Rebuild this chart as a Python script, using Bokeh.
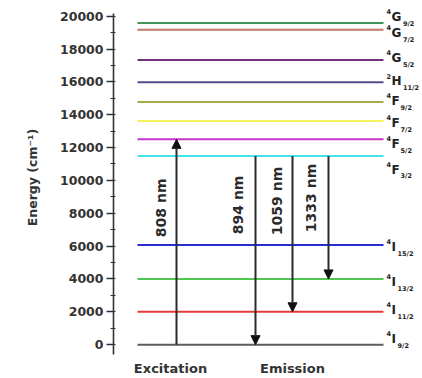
import math
from bokeh.plotting import figure
from bokeh.models import Range1d, SingleIntervalTicker, FixedTicker, Label, Arrow, NormalHead, ColumnDataSource
from bokeh.embed import file_html
from bokeh.resources import INLINE

# ---- data ----
level_sup = ["4", "4", "4", "4", "4", "4", "4", "4", "2", "4", "4", "4"]
level_letter = ["I", "I", "I", "I", "F", "F", "F", "F", "H", "G", "G", "G"]
level_sub = ["9/2", "11/2", "13/2", "15/2", "3/2", "5/2", "7/2", "9/2", "11/2", "5/2", "7/2", "9/2"]
level_energy = [0, 2000, 4000, 6070, 11490, 12500, 13620, 14780, 15970, 17330, 19170, 19580]
level_color = ["#5c5c5c", "#e5383b", "#52c452", "#2b2bd2", "#45e2ea", "#c935c9",
               "#f3f35e", "#a9a94a", "#5a4a8c", "#72307c", "#c27a6a", "#3f9459"]

arrow_label = ["808 nm", "894 nm", "1059 nm", "1333 nm"]
arrow_from = [0, 11490, 11490, 11490]
arrow_to = [12500, 0, 2000, 4000]

x_categories = ["Excitation", "Emission"]

# ---- layout (pixels / positions) ----
PX = (20180 + 600) / 349.0          # energy units per screen pixel
Y_TOP = 20180 + 13 * PX             # frame extends to canvas top; axis bounded
X0, X1 = 24, 270                    # level line extent
arrow_x = [63, 142, 179, 215]
arrow_label_x = [47, 124, 163, 197]
arrow_label_y = [8330, 8510, 8750, 8930]
cat_x = [57, 179]
label_off_px = [6, 2, -3, -2, -14, -5, -2, 1, 1, 2, -3, 6]   # + = up
letter_w = {"G": 9.9, "H": 10.0, "F": 7.6, "I": 4.5}

FONT = "DejaVu Sans"

p = figure(width=422, height=378, output_backend="svg", toolbar_location=None,
           x_range=Range1d(0, 308), y_range=Range1d(-600, Y_TOP),
           min_border_left=113, min_border_right=1, min_border_top=0, min_border_bottom=16)
p.outline_line_color = None
p.grid.grid_line_color = None
p.background_fill_color = "white"
p.border_fill_color = "white"

# y axis
ya = p.yaxis[0]
ya.bounds = (-600, 20180)
ya.ticker = SingleIntervalTicker(interval=2000, num_minor_ticks=2)
ya.axis_line_color = "#333333"
ya.axis_line_width = 1.6
ya.major_tick_line_color = "#333333"
ya.major_tick_line_width = 1.5
ya.major_tick_out = 7
ya.major_tick_in = 0
ya.minor_tick_line_color = "#333333"
ya.minor_tick_line_width = 1.2
ya.minor_tick_out = 3
ya.minor_tick_in = 2
ya.major_label_standoff = 3
ya.major_label_text_font = FONT
ya.major_label_text_font_style = "bold"
ya.major_label_text_font_size = "12.5px"
ya.major_label_text_color = "#333333"
ya.axis_label = "Energy (cm\u207b\u00b9)"
ya.axis_label_text_font = FONT
ya.axis_label_text_font_style = "bold"
ya.axis_label_text_font_size = "12.5px"
ya.axis_label_text_color = "#333333"
ya.axis_label_standoff = 17

# x axis: categories
xa = p.xaxis[0]
xa.ticker = FixedTicker(ticks=cat_x)
xa.major_label_overrides = {cx: name for cx, name in zip(cat_x, x_categories)}
xa.axis_line_color = None
xa.major_tick_line_color = None
xa.minor_tick_line_color = None
xa.major_label_standoff = 0
xa.major_label_text_font = FONT
xa.major_label_text_font_style = "bold"
xa.major_label_text_font_size = "13px"
xa.major_label_text_color = "#333333"

# energy levels
src = ColumnDataSource(dict(x0=[X0] * len(level_energy), x1=[X1] * len(level_energy),
                            y=level_energy, c=level_color))
p.segment(x0="x0", y0="y", x1="x1", y1="y", color="c", line_width=2, source=src)

# level labels
LX = 278
for sup, let, sub, e, off in zip(level_sup, level_letter, level_sub, level_energy, label_off_px):
    yc = e + off * PX
    p.add_layout(Label(x=LX, y=yc, text=let, text_font=FONT, text_font_style="bold",
                       text_font_size="12px", text_color="#222222",
                       text_align="left", text_baseline="middle"))
    p.add_layout(Label(x=LX - 0.5, y=yc + 5.5 * PX, text=sup, text_font=FONT, text_font_style="bold",
                       text_font_size="6.5px", text_color="#222222",
                       text_align="right", text_baseline="middle"))
    p.add_layout(Label(x=LX + letter_w[let] + 1.5, y=yc - 7 * PX, text=sub, text_font=FONT,
                       text_font_style="bold", text_font_size="6.5px", text_color="#222222",
                       text_align="left", text_baseline="middle"))

# transitions
for ax, y0, y1, lx, ly, name in zip(arrow_x, arrow_from, arrow_to, arrow_label_x, arrow_label_y, arrow_label):
    p.add_layout(Arrow(x_start=ax, y_start=y0, x_end=ax, y_end=y1,
                       line_color="#2b2b2b", line_width=2,
                       end=NormalHead(size=9, fill_color="#111111", line_color="#111111", line_width=1)))
    p.add_layout(Label(x=lx, y=ly, text=name, angle=math.pi / 2, text_font=FONT,
                       text_font_style="bold", text_font_size="14px", text_color="#2b2b2b",
                       text_align="center", text_baseline="middle"))

open("out.html", "w").write(file_html(p, INLINE))
